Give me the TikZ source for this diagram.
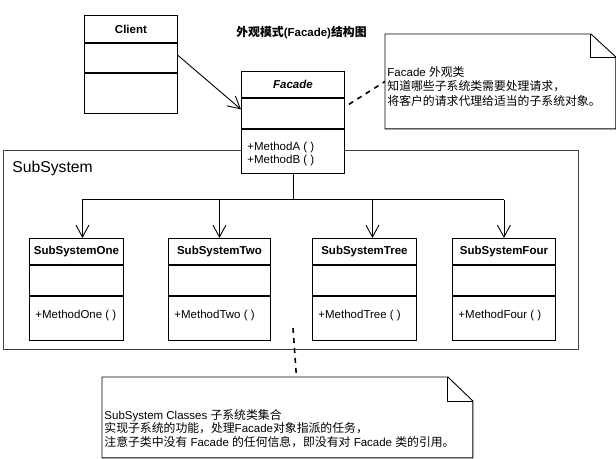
\documentclass[tikz,border=0pt]{standalone}
\usepackage{fontspec}
\setmainfont{Liberation Sans}
\newfontfamily\cjk{Noto Sans CJK SC}[Scale=1.03]
\usetikzlibrary{arrows.meta}
\begin{document}
\begin{tikzpicture}[x=1pt,y=-1pt,line width=0.9pt,
    font=\fontsize{11.5}{14}\selectfont,
    part/.style={draw,fill=white,inner sep=0pt,anchor=north west},
    head/.style={part,minimum height=26,font=\fontsize{11.5}{14}\selectfont\bfseries},
    method/.style={inner sep=0pt,anchor=base west},
    arrow/.style={-{Straight Barb[length=12pt,width=13pt]}},
    dashline/.style={line width=1.6pt,dash pattern=on 5pt off 5pt},
    notetext/.style={inner sep=0pt,anchor=north west,align=left}]
    \useasboundingbox (0,0) rectangle (616,458);
    % subsystem frame
    \node[part,draw=black!75,minimum width=575,minimum height=199] (subsys) at (3,150) {};
    \node[method,font=\fontsize{15.7}{18}\selectfont] (subsys-l) at (12,172.5) {SubSystem};
    \node[font=\fontsize{11.5}{14}\selectfont\bfseries] (title) at (301.5,33)
      {{\cjk 外观模式}(Facade){\cjk 结构图}};
    % client
    \node[head,minimum width=93,minimum height=27] (client-h) at (84,15) {Client};
    \node[part,minimum width=93,minimum height=29] (client-a) at (client-h.south west) {};
    \node[part,minimum width=93,minimum height=40] (client-m) at (client-a.south west) {};
    % facade
    \node[head,minimum width=103,font=\fontsize{11.5}{14}\selectfont\bfseries\itshape] (facade-h) at (241,71) {Facade};
    \node[part,minimum width=103,minimum height=30] (facade-a) at (facade-h.south west) {};
    \node[part,minimum width=103,minimum height=44] (facade-m) at (facade-a.south west) {};
    \node[method] (facade-t1) at ([xshift=6,yshift=-22]facade-m.north west) {+MethodA ( )};
    \node[method] (facade-t2) at ([yshift=-13]facade-t1.base west) {+MethodB ( )};
    \draw[arrow] ([yshift=2.5]client-a.east) -- ([yshift=4]facade-a.west);
    % subsystem classes
    \coordinate (hub) at ([yshift=-26]facade-m.south);
    \draw (facade-m.south) -- (hub);
    \foreach \nm/\lbl/\xx/\ww/\dx in {one/One/29/94/6, two/Two/168/102/0, tree/Tree/312/104/8, four/Four/452/103/0}{
      \node[head,minimum width=\ww] (\nm-h) at (\xx,238) {SubSystem\lbl};
      \node[part,minimum width=\ww,minimum height=30] (\nm-a) at (\nm-h.south west) {};
      \node[part,minimum width=\ww,minimum height=44] (\nm-m) at (\nm-a.south west) {};
      \node[method] (\nm-t) at ([xshift=6,yshift=-23]\nm-m.north west) {+Method\lbl{} ( )};
      \draw[arrow] ([xshift=\dx]\nm-h.north |- hub) -- ([xshift=\dx]\nm-h.north);
    }
    \draw ([xshift=6]one-h.north |- hub) -- (four-h.north |- hub);
    % notes
    \node[inner sep=0pt,anchor=north west,minimum width=230,minimum height=94] (fnote) at (385,34) {};
    \draw (fnote.north west) -- ([xshift=-25]fnote.north east) -- ([yshift=-23]fnote.north east)
      -- (fnote.south east) -- (fnote.south west) -- cycle;
    \draw ([xshift=-25]fnote.north east) |- ([yshift=-23]fnote.north east);
    \node[notetext,font=\fontsize{11.5}{14.5}\selectfont] (fnote-t) at (387,66)
      {Facade {\cjk 外观类}\\{\cjk 知道哪些子系统类需要处理请求，}\\{\cjk 将客户的请求代理给适当的子系统对象。}};
    \draw[dashline] ([xshift=4,yshift=9]facade-a.east) -- (fnote.west);
    \node[inner sep=0pt,anchor=north west,minimum width=370,minimum height=80] (snote) at (102,377) {};
    \draw (snote.north west) -- ([xshift=-25]snote.north east) -- ([yshift=-24]snote.north east)
      -- (snote.south east) -- (snote.south west) -- cycle;
    \draw ([xshift=-25]snote.north east) |- ([yshift=-24]snote.north east);
    \node[notetext,font=\fontsize{11.5}{13.5}\selectfont] (snote-t) at (104,409)
      {SubSystem Classes {\cjk 子系统类集合}\\{\cjk 实现子系统的功能，处理}Facade{\cjk 对象指派的任务，}\\{\cjk 注意子类中没有} Facade {\cjk 的任何信息，即没有对} Facade {\cjk 类的引用。}};
    \coordinate (subdot) at (293,328);
    \draw[dashline] (subdot) -- ([xshift=9]snote.north);
\end{tikzpicture}
\end{document}
